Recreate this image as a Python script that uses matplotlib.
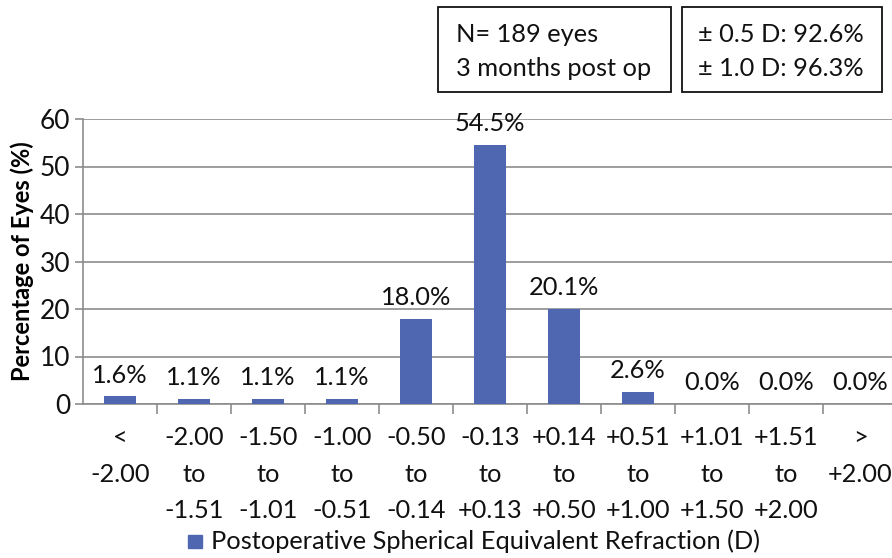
import matplotlib
matplotlib.use("Agg")
import matplotlib.pyplot as plt
from matplotlib.patches import Rectangle

# Postoperative spherical equivalent refraction distribution
categories = ["<\n-2.00", "-2.00\nto\n-1.51", "-1.50\nto\n-1.01", "-1.00\nto\n-0.51",
              "-0.50\nto\n-0.14", "-0.13\nto\n+0.13", "+0.14\nto\n+0.50", "+0.51\nto\n+1.00",
              "+1.01\nto\n+1.50", "+1.51\nto\n+2.00", ">\n+2.00"]
percent_eyes = [1.6, 1.1, 1.1, 1.1, 18.0, 54.5, 20.1, 2.6, 0.0, 0.0, 0.0]
y_ticks = [0, 10, 20, 30, 40, 50, 60]
series_name = "Postoperative Spherical Equivalent Refraction (D)"
box_left_lines = ["N= 189 eyes", "3 months post op"]
box_right_lines = ["± 0.5 D: 92.6%", "± 1.0 D: 96.3%"]

plt.rcParams["font.family"] = ["Lato", "DejaVu Sans"]

W, H = 892, 558
fig = plt.figure(figsize=(W / 100, H / 100), dpi=100)

def fx(px):
    return px / W

def fy(py):
    return 1 - py / H

bar_color = "#4E67B0"
grid_color = "#8C8C8C"
text_color = "#111111"
fs = 18.3

ax = fig.add_axes([fx(83), fy(404), fx(897 - 83), (404 - 119) / H])
x = list(range(len(categories)))
ax.bar(x, percent_eyes, width=0.42, color=bar_color, zorder=3)

ax.set_xlim(-0.5, len(categories) - 0.5)
ax.set_ylim(0, 60)
ax.set_yticks(y_ticks)
ax.yaxis.grid(True, color=grid_color, linewidth=1.2, zorder=0)
ax.set_axisbelow(True)

for side in ("top", "right"):
    ax.spines[side].set_visible(False)
for side in ("left", "bottom"):
    ax.spines[side].set_color(grid_color)
    ax.spines[side].set_linewidth(1.2)

ax.set_xticks(x)
ax.set_xticklabels(categories, fontsize=fs, linespacing=1.7, color=text_color)
ax.tick_params(axis="x", which="major", length=0, pad=16)
ax.set_xticks([i + 0.5 for i in x[:-1]], minor=True)
ax.tick_params(axis="x", which="minor", length=7, width=1.2, color=grid_color)
ax.tick_params(axis="y", length=6, width=1.2, color=grid_color, labelsize=19,
               labelcolor=text_color, pad=3)

ax.set_ylabel("Percentage of Eyes (%)", fontsize=17, fontweight="bold", labelpad=4)

for xi, v in zip(x, percent_eyes):
    ax.annotate(f"{v:.1f}%", (xi, v), xytext=(0, 7), textcoords="offset points",
                ha="center", va="bottom", fontsize=fs, color=text_color, zorder=4)

# Summary boxes above the plot
for (x0, x1), lines, tx in (((438, 671), box_left_lines, 456), ((682, 882), box_right_lines, 698)):
    fig.patches.append(Rectangle((fx(x0), fy(92)), fx(x1 - x0), (92 - 7) / H,
                                 transform=fig.transFigure, fill=False,
                                 edgecolor=text_color, linewidth=1.3))
    for ly, t in zip((35, 68), lines):
        fig.text(fx(tx), fy(ly), t, ha="left", va="center", fontsize=fs, color=text_color)

# Legend entry
fig.patches.append(Rectangle((fx(188), fy(548)), fx(14), 13 / H,
                             transform=fig.transFigure, color=bar_color))
fig.text(fx(211), fy(541), series_name, ha="left", va="center", fontsize=fs, color=text_color)

fig.savefig("out.png", dpi=100)
